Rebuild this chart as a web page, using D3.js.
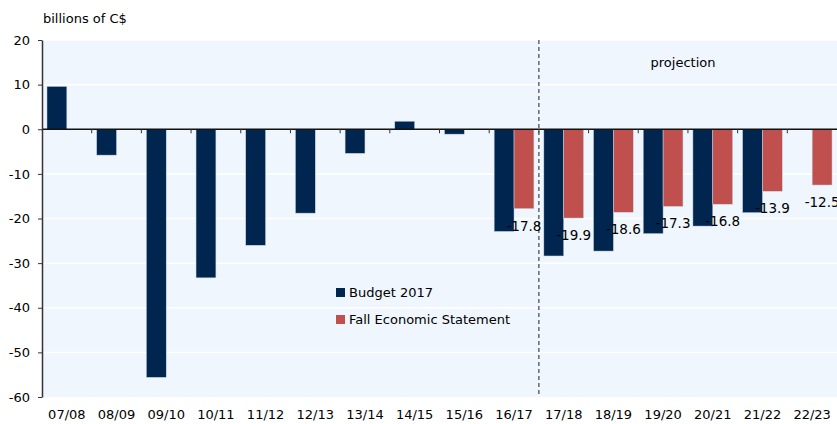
<!DOCTYPE html>
<html>
<head>
<meta charset="utf-8">
<script src="https://cdn.jsdelivr.net/npm/d3@7"></script>
<style>
  body { margin: 0; background: #fff; }
  svg { display: block; font-family: "DejaVu Sans", sans-serif; }
</style>
</head>
<body>
<svg id="chart" width="837" height="424"></svg>
<script>
// fiscal years
const categories = ["07/08", "08/09", "09/10", "10/11", "11/12", "12/13", "13/14", "14/15",
  "15/16", "16/17", "17/18", "18/19", "19/20", "20/21", "21/22", "22/23"];
const seriesNames = ["Budget 2017", "Fall Economic Statement"];
// budgetary balance, billions of C$
const budget2017 = [9.6, -5.8, -55.6, -33.3, -26.0, -18.8, -5.4, 1.8, -1.1, -22.9,
  -28.4, -27.3, -23.4, -21.7, -18.7, null];
const fallStatement = [null, null, null, null, null, null, null, null, null, -17.8,
  -19.9, -18.6, -17.3, -16.8, -13.9, -12.5];
const yTicks = [20, 10, 0, -10, -20, -30, -40, -50, -60];
const projectionStart = "17/18";

const colors = { "Budget 2017": "#00264f", "Fall Economic Statement": "#c0504d" };

const svg = d3.select("#chart");
const plotL = 42, plotR = 837, plotT = 40, plotB = 397;

const x0 = d3.scaleBand().domain(categories).range([plotL, plotR])
  .paddingInner(0.2).paddingOuter(0.1);
const x1 = d3.scaleBand().domain(seriesNames).range([0, x0.bandwidth()]);
const y = d3.scaleLinear().domain([-60, 20]).range([plotB, plotT]);
const step = x0.step();

// plot background
svg.append("rect")
  .attr("x", plotL).attr("y", plotT)
  .attr("width", plotR - plotL).attr("height", plotB - plotT)
  .attr("fill", "#eff6fd");

// gridlines
svg.append("g").selectAll("line")
  .data(yTicks.filter(d => d !== 0 && d !== -60))
  .enter().append("line")
  .attr("x1", plotL).attr("x2", plotR)
  .attr("y1", d => y(d)).attr("y2", d => y(d))
  .attr("stroke", "#ffffff").attr("stroke-width", 1.5);

// bars
const rows = categories.map((c, i) => ({
  cat: c,
  vals: [
    { name: seriesNames[0], v: budget2017[i] },
    { name: seriesNames[1], v: fallStatement[i] }
  ]
}));

const groups = svg.append("g").selectAll("g")
  .data(rows).enter().append("g")
  .attr("transform", d => `translate(${x0(d.cat)},0)`);

groups.selectAll("rect")
  .data(d => d.vals.filter(e => e.v !== null))
  .enter().append("rect")
  .attr("x", e => x1(e.name))
  .attr("width", x1.bandwidth())
  .attr("y", e => y(Math.max(0, e.v)))
  .attr("height", e => Math.abs(y(e.v) - y(0)))
  .attr("fill", e => colors[e.name])
  .attr("stroke", "#c9d7e8").attr("stroke-width", 0.5);

// zero line with category ticks
svg.append("line")
  .attr("x1", plotL).attr("x2", plotR)
  .attr("y1", y(0)).attr("y2", y(0))
  .attr("stroke", "#111").attr("stroke-width", 1.3);

svg.append("g").selectAll("line")
  .data(categories.slice(1))
  .enter().append("line")
  .attr("x1", d => x0(d) - step * 0.1).attr("x2", d => x0(d) - step * 0.1)
  .attr("y1", y(0)).attr("y2", y(0) + 4)
  .attr("stroke", "#333").attr("stroke-width", 1);

// projection divider
const xDiv = x0(projectionStart) - step * 0.1;
svg.append("line")
  .attr("x1", xDiv).attr("x2", xDiv)
  .attr("y1", plotT).attr("y2", plotB)
  .attr("stroke", "#444").attr("stroke-width", 1.2)
  .attr("stroke-dasharray", "4,3");

svg.append("text")
  .attr("x", 683).attr("y", 67)
  .attr("text-anchor", "middle")
  .attr("font-size", 13).attr("fill", "#000")
  .text("projection");

// y axis
const yAxis = svg.append("g").attr("transform", `translate(${plotL},0)`)
  .call(d3.axisLeft(y).tickValues(yTicks).tickFormat(d => String(d))
    .tickSize(4).tickSizeOuter(0).tickPadding(8));
yAxis.select(".domain").attr("stroke", "#333").attr("stroke-width", 1.5);
yAxis.selectAll(".tick line").attr("stroke", "#333");
yAxis.selectAll("text").attr("font-size", 13).attr("fill", "#000")
  .attr("font-family", "DejaVu Sans, sans-serif");

svg.append("text")
  .attr("x", 43).attr("y", 23)
  .attr("font-size", 13).attr("fill", "#000")
  .text("billions  of C$");

// x labels
svg.append("g").selectAll("text")
  .data(categories).enter().append("text")
  .attr("x", d => x0(d) + x0.bandwidth() / 2)
  .attr("y", 419)
  .attr("text-anchor", "middle")
  .attr("font-size", 13).attr("fill", "#000")
  .text(d => d);

// value labels for the fall statement series
svg.append("g").selectAll("text")
  .data(rows.filter(r => r.vals[1].v !== null))
  .enter().append("text")
  .attr("x", d => x0(d.cat) + x1(seriesNames[1]) + x1.bandwidth() / 2)
  .attr("y", d => y(d.vals[1].v) + 22)
  .attr("text-anchor", "middle")
  .attr("font-size", 13.5).attr("fill", "#000")
  .text(d => d.vals[1].v.toFixed(1));

// legend
const legend = svg.append("g").attr("transform", "translate(336,288)");
const item = legend.selectAll("g").data(seriesNames).enter().append("g")
  .attr("transform", (d, i) => `translate(0,${i * 27})`);
item.append("rect")
  .attr("width", 9).attr("height", 9)
  .attr("fill", d => colors[d]);
item.append("text")
  .attr("x", 13).attr("y", 9)
  .attr("font-size", 13).attr("fill", "#000")
  .text(d => d);
</script>
</body>
</html>
